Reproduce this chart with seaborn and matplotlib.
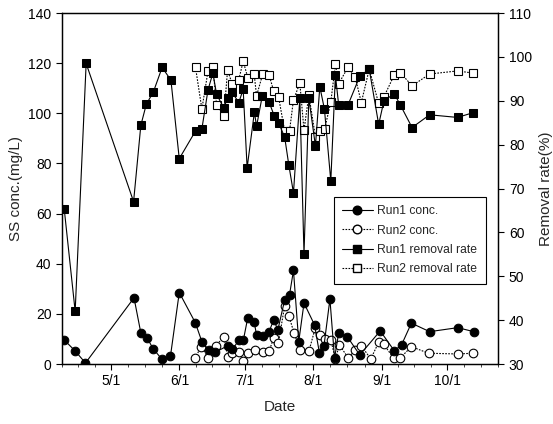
import numpy as np
import pandas as pd
import matplotlib
matplotlib.use("Agg")
import matplotlib.pyplot as plt
import seaborn as sns
from matplotlib.lines import Line2D

# Days counted from April 1 (day 0)
run1_conc_day = [8.5, 13.5, 18.2, 40.3, 43.4, 46.2, 49.1, 52.9, 56.9, 60.9, 68.2, 71.2, 74.3, 77.3,
                 83.0, 85.1, 88.2, 90.1, 92.1, 95.0, 96.1, 98.9, 101.8, 103.9, 105.8, 108.9, 111.1,
                 112.9, 115.3, 117.7, 122.5, 124.7, 126.8, 129.5, 131.6, 133.5, 137.4, 143.1, 152.4,
                 158.8, 162.1, 166.6, 174.9, 187.7, 195.0]
run1_conc = [9.6, 5.2, 0.4, 26.4, 12.4, 10.4, 6.0, 2.0, 3.2, 28.5, 16.5, 8.9, 5.6, 4.7,
             7.3, 5.9, 9.6, 9.6, 18.5, 16.7, 11.6, 11.2, 12.9, 17.6, 13.6, 25.6, 27.6,
             37.3, 8.9, 24.3, 15.6, 4.5, 7.3, 25.9, 2.3, 12.5, 10.9, 3.6, 13.2,
             5.3, 7.6, 16.3, 12.9, 14.5, 12.9]

run2_conc_day = [68.0, 70.9, 74.0, 77.6, 81.2, 83.0, 85.1, 88.2, 90.0, 92.1, 95.4, 98.9, 101.8,
                 103.9, 106.0, 108.9, 110.8, 113.2, 116.0, 120.0, 122.8, 125.0, 127.1, 129.9,
                 132.0, 133.8, 137.8, 141.0, 143.8, 148.1, 151.7, 154.0, 158.5, 161.6, 166.6,
                 174.4, 187.6, 194.8]
run2_conc = [2.3, 6.9, 2.5, 7.3, 10.9, 2.9, 4.3, 4.9, 1.2, 4.3, 5.6, 4.7, 5.2,
             10.3, 8.3, 23.2, 19.2, 12.3, 5.6, 5.3, 14.3, 11.6, 9.9, 9.6,
             2.0, 7.6, 2.5, 5.6, 7.3, 2.0, 8.7, 7.9, 2.3, 2.5, 6.9,
             4.3, 4.0, 4.3]

run1_rate_day = [8.5, 13.5, 18.5, 40.1, 43.4, 45.9, 49.1, 53.1, 57.1, 60.9, 68.3, 71.2, 74.0,
                 76.2, 77.9, 81.2, 82.9, 85.0, 88.0, 90.0, 91.8, 95.1, 96.1, 98.7, 101.8, 104.2,
                 106.1, 108.9, 110.8, 112.9, 115.8, 117.7, 119.9, 122.9, 124.9, 127.0, 129.9,
                 132.0, 133.5, 137.7, 143.1, 147.4, 151.7, 154.1, 158.8, 161.6, 166.9, 174.9,
                 187.6, 194.8]
run1_rate = [65.4, 42.0, 98.5, 67.0, 84.4, 89.2, 92.0, 97.6, 94.7, 76.8, 83.1, 83.6, 92.5,
             96.3, 91.5, 88.3, 90.7, 91.9, 89.6, 92.6, 74.7, 87.4, 84.2, 91.1, 89.7, 86.5,
             85.0, 81.7, 75.3, 69.0, 90.6, 55.1, 90.6, 79.7, 93.2, 88.1, 71.7,
             95.8, 89.0, 89.0, 95.6, 97.2, 84.6, 90.0, 91.6, 89.0, 83.9, 86.8,
             86.2, 87.3]

run2_rate_day = [68.3, 71.2, 74.0, 76.2, 77.9, 81.2, 82.9, 85.0, 88.0, 90.0, 92.1, 95.0, 96.1,
                 98.9, 101.8, 103.9, 106.1, 108.9, 111.1, 112.9, 115.8, 117.7, 119.9, 122.9,
                 125.0, 127.1, 129.9, 132.0, 133.5, 137.7, 141.0, 143.8, 147.4, 151.7, 154.1,
                 158.8, 161.6, 166.9, 174.9, 187.6, 194.8]
run2_rate = [97.6, 88.1, 96.8, 97.6, 89.0, 86.5, 97.0, 93.8, 94.8, 99.0, 95.3, 96.1, 91.1,
             96.1, 95.9, 92.2, 90.9, 83.1, 83.1, 90.2, 94.0, 83.3, 91.3, 81.8,
             83.1, 83.6, 89.7, 98.3, 93.9, 97.6, 95.4, 89.6, 97.2, 89.4, 90.9,
             95.9, 96.4, 93.4, 96.1, 96.8, 96.3]

month_days = [30, 61, 91, 122, 153, 183]
month_labels = ["5/1", "6/1", "7/1", "8/1", "9/1", "10/1"]

sns.set_style("ticks")
plt.rcParams["font.family"] = ["Liberation Sans", "DejaVu Sans"]
plt.rcParams["xtick.direction"] = "out"
plt.rcParams["ytick.direction"] = "out"

fig = plt.figure(figsize=(5.53, 4.24), dpi=100)
ax = fig.add_axes([0.1121, 0.1415, 0.7893, 0.8278])
ax2 = ax.twinx()

lw = 0.8
dots = (0, (1.5, 1.2))
circ = 6.2
sq = 5.8
sns.lineplot(x=run2_conc_day, y=run2_conc, ax=ax, color="black", lw=lw, linestyle=dots,
             marker="o", markersize=circ, markerfacecolor="white", markeredgecolor="black",
             markeredgewidth=0.8, estimator=None, sort=False)
sns.lineplot(x=run1_conc_day, y=run1_conc, ax=ax, color="black", lw=lw,
             marker="o", markersize=circ, markerfacecolor="black", markeredgecolor="black",
             estimator=None, sort=False)
sns.lineplot(x=run2_rate_day, y=run2_rate, ax=ax2, color="black", lw=lw, linestyle=dots,
             marker="s", markersize=sq, markerfacecolor="white", markeredgecolor="black",
             markeredgewidth=0.8, estimator=None, sort=False)
sns.lineplot(x=run1_rate_day, y=run1_rate, ax=ax2, color="black", lw=lw,
             marker="s", markersize=sq, markerfacecolor="black", markeredgecolor="black",
             estimator=None, sort=False)

ax.set_xlim(8.5, 195.2)
ax.set_ylim(0, 140)
ax2.set_ylim(30, 110)
ax.set_yticks(np.arange(0, 141, 20))
ax2.set_yticks(np.arange(30, 111, 10))
ax.set_xticks(month_days)
ax.set_xticklabels(month_labels)

bounds = [0] + month_days + [214]
minor = []
for a, b in zip(bounds[:-1], bounds[1:]):
    minor += [a + (b - a) * k / 4 for k in (1, 2, 3)]
ax.set_xticks(minor, minor=True)

for a in (ax, ax2):
    a.tick_params(axis="both", which="major", labelsize=10, length=4, width=0.8, colors="black")
    a.tick_params(axis="x", which="minor", length=2.5, width=0.6)
    for s in a.spines.values():
        s.set_linewidth(0.9)
        s.set_color("black")

ax.set_xlabel("Date", fontsize=11, labelpad=8)
ax.set_ylabel("SS conc.(mg/L)", fontsize=11, labelpad=4)
ax2.set_ylabel("Removal rate(%)", fontsize=11, labelpad=5)

handles = [
    Line2D([], [], color="black", lw=lw, marker="o", markersize=circ, markerfacecolor="black"),
    Line2D([], [], color="black", lw=lw, linestyle=dots, marker="o", markersize=circ,
           markerfacecolor="white", markeredgecolor="black"),
    Line2D([], [], color="black", lw=lw, marker="s", markersize=sq, markerfacecolor="black"),
    Line2D([], [], color="black", lw=lw, linestyle=dots, marker="s", markersize=sq,
           markerfacecolor="white", markeredgecolor="black"),
]
labels = ["Run1 conc.", "Run2 conc.", "Run1 removal rate", "Run2 removal rate"]
leg = ax2.legend(handles, labels, loc="upper right", bbox_to_anchor=(0.971, 0.476),
                 borderaxespad=0, fontsize=8.7, frameon=True, fancybox=False, framealpha=1,
                 edgecolor="black", handlelength=2.5, borderpad=0.7, labelspacing=0.6,
                 handletextpad=0.4)
leg.get_frame().set_linewidth(0.8)

fig.savefig("out.png", dpi=100)
